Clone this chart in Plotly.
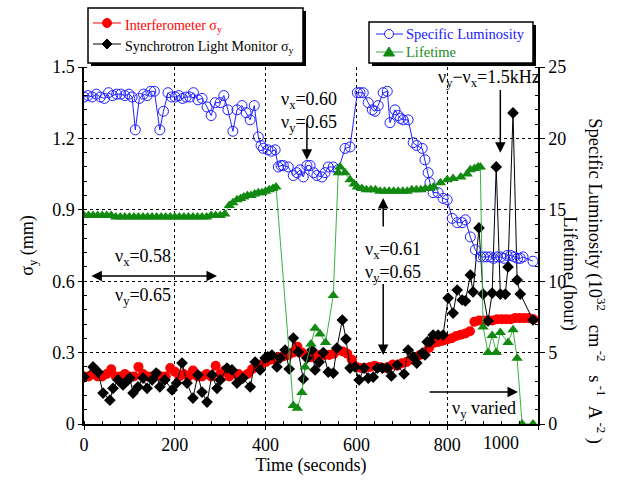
import plotly.graph_objects as go

# ---------------- data ----------------
red_t = list(range(0, 1000, 10))
red_s = [0.20,0.20,0.21,0.20,0.20,0.21,0.23,0.20,0.20,0.21,
         0.20,0.20,0.24,0.21,0.20,0.20,0.21,0.20,0.20,0.235,
         0.22,0.20,0.21,0.20,0.225,0.20,0.20,0.21,0.20,0.245,
         0.21,0.225,0.20,0.21,0.21,0.20,0.21,0.23,0.245,0.25,
         0.26,0.27,0.27,0.28,0.285,0.29,0.30,0.325,0.30,0.285,
         0.28,0.29,0.29,0.29,0.29,0.295,0.31,0.305,0.295,0.27,
         0.24,0.235,0.235,0.24,0.245,0.24,0.235,0.24,0.25,0.245,
         0.255,0.26,0.27,0.275,0.29,0.30,0.32,0.34,0.345,0.35,
         0.355,0.36,0.37,0.375,0.38,0.39,0.43,0.435,0.435,0.435,
         0.435,0.44,0.44,0.44,0.44,0.445,0.445,0.445,0.445,0.44]

blk_t = [0,20,31,42,57,64,75,86,97,101,108,119,130,139,150,159,167,178,194,204,
         216,227,240,251,260,271,282,293,300,315,326,337,350,366,377,388,399,405,414,425,
         432,443,452,461,472,483,491,502,509,518,527,538,549,557,569,577,586,597,606,617,
         626,637,646,657,668,677,690,705,714,725,733,745,751,756,762,769,780,791,802,813,
         822,833,840,851,857,870,879,890,899,908,917,928,934,945,954,961,989]
blk_s = [0.197,0.24,0.218,0.13,0.10,0.15,0.185,0.164,0.185,0.193,0.13,0.156,0.193,0.15,0.185,0.214,0.156,0.185,0.143,0.172,
         0.256,0.172,0.109,0.206,0.134,0.092,0.206,0.15,0.185,0.235,0.227,0.172,0.193,0.156,0.26,0.227,0.277,0.282,0.29,0.24,
         0.277,0.311,0.231,0.361,0.303,0.189,0.277,0.311,0.227,0.26,0.30,0.218,0.214,0.319,0.437,0.357,0.235,0.24,0.185,0.235,
         0.193,0.197,0.235,0.235,0.235,0.202,0.248,0.21,0.311,0.282,0.256,0.298,0.29,0.345,0.345,0.374,0.374,0.374,0.529,0.466,
         0.563,0.521,0.517,0.626,0.555,0.824,0.546,0.433,0.55,1.08,0.546,0.546,0.66,1.307,0.605,0.546,0.437]

lum_t = [0,9,18,27,36,45,54,63,72,81,90,99,106,113,122,131,139,147,155,167,
         175,185,193,201,209,217,225,233,241,251,260,271,280,289,300,308,317,328,337,348,
         357,366,375,384,390,395,405,413,421,428,434,439,450,461,469,476,483,491,498,506,
         513,524,531,538,549,560,575,586,602,608,615,626,635,641,648,659,668,674,685,692,
         697,703,714,725,733,745,751,758,762,769,780,791,800,811,822,833,840,851,862,873,
         880,887,895,902,910,918,925,932,940,948,955,961,967,989]
lum_v = [22.9,23.0,22.9,23.1,22.9,22.8,23.2,23.0,23.1,23.1,23.0,23.1,22.9,20.6,22.8,23.1,23.0,23.3,23.3,20.6,
         21.9,23.2,22.9,22.9,23.0,22.8,22.9,22.9,23.2,22.7,22.8,22.2,21.6,22.5,22.5,23.0,22.0,20.5,22.0,22.3,
         21.8,21.3,22.3,20.1,19.5,19.3,19.2,19.1,19.2,18.0,18.1,18.1,18.0,17.4,17.6,17.8,17.3,18.1,18.1,17.6,
         17.4,17.3,17.6,18.0,18.0,17.8,19.3,19.4,23.2,23.2,23.2,22.5,22.0,21.9,22.3,23.2,23.3,21.1,22.0,21.6,
         21.4,21.3,21.3,19.7,19.5,19.3,18.5,17.6,16.9,16.2,16.2,15.8,15.7,14.4,14.1,14.1,14.3,13.1,12.2,11.7,
         11.7,11.7,11.7,11.6,11.7,11.7,11.6,11.8,11.8,11.7,11.6,11.6,11.7,11.4]

life_t = [0,10,20,30,40,50,60,70,80,90,100,110,120,130,140,150,160,170,180,190,
          200,210,220,230,240,250,260,270,280,290,300,310,320,328,337,345,352,360,368,376,
          384,392,400,408,416,423,461,470,480,487,500,509,520,532,549,560,564,575,586,595,
          602,612,622,632,642,652,662,672,682,692,702,712,722,732,742,752,762,770,785,800,
          813,830,844,851,860,868,873,879,890,899,908,917,934,945,954,965,989]
life_v = [14.6,14.6,14.6,14.6,14.6,14.6,14.6,14.5,14.5,14.5,14.5,14.5,14.5,14.5,14.5,14.5,14.5,14.5,14.5,14.5,
          14.5,14.5,14.5,14.5,14.5,14.5,14.5,14.5,14.6,14.6,14.6,14.7,15.3,15.5,15.7,15.8,15.9,16.0,16.0,16.1,
          16.2,16.2,16.3,16.4,16.5,16.6,1.3,1.1,2.2,4.0,5.6,6.7,6.3,5.7,9.0,17.6,18.0,17.6,17.1,16.8,
          16.6,16.5,16.4,16.4,16.4,16.3,16.3,16.3,16.3,16.3,16.3,16.3,16.4,16.4,16.4,16.5,16.5,16.6,16.9,17.1,
          17.2,17.3,17.5,17.8,17.9,18.0,18.0,6.8,5.0,6.2,5.0,6.4,5.7,6.6,4.6,0.0,0.0]

x_ticks = [0, 200, 400, 600, 800, 1000]
x_ticktext = ["0", "200", "400", "600", "800", ""]   # "1000" drawn shifted left below
y_ticks = [0, 0.3, 0.6, 0.9, 1.2, 1.5]
y2_ticks = [0, 5, 10, 15, 20, 25]

legend1_names = ["Interferometer σ<sub>y</sub>", "Synchrotron Light Monitor σ<sub>y</sub>"]
legend2_names = ["Specific Luminosity", "Lifetime"]

FONT = "Liberation Serif, Times New Roman, serif"
RED = "#ff0000"
BLUE = "#2020ff"
GREEN_M = "#128a12"
GREEN_L = "#3cb043"
GREEN_T = "#1a8a1a"

fig = go.Figure()
fig.add_trace(go.Scatter(x=red_t, y=red_s, mode="lines+markers", name="Interferometer σy",
    line=dict(color=RED, width=1), marker=dict(symbol="circle", size=10, color=RED)))
fig.add_trace(go.Scatter(x=blk_t, y=blk_s, mode="lines+markers", name="Synchrotron Light Monitor σy",
    line=dict(color="black", width=1), marker=dict(symbol="diamond", size=9, color="black")))
fig.add_trace(go.Scatter(x=lum_t, y=lum_v, mode="lines+markers", yaxis="y2", name="Specific Luminosity",
    line=dict(color=BLUE, width=1),
    marker=dict(symbol="circle-open", size=10, color=BLUE, line=dict(width=1))))
fig.add_trace(go.Scatter(x=life_t, y=life_v, mode="lines+markers", yaxis="y2", name="Lifetime",
    line=dict(color=GREEN_L, width=1), marker=dict(symbol="triangle-up", size=10, color=GREEN_M)))

fig.update_layout(
    width=621, height=481,
    margin=dict(l=84, r=83, t=67, b=57),
    paper_bgcolor="white", plot_bgcolor="white",
    showlegend=False,
    font=dict(family=FONT, size=18, color="black"),
    xaxis=dict(range=[0, 1000], tickvals=x_ticks, ticktext=x_ticktext,
               showgrid=True, gridcolor="black", griddash="dot", gridwidth=1,
               showline=True, linecolor="black", linewidth=1.5, mirror=False,
               ticks="outside", ticklen=4, tickcolor="black",
               minor=dict(dtick=40, ticks="inside", ticklen=3, tickcolor="black", showgrid=False),
               zeroline=False,
               title=dict(text="Time (seconds)", font=dict(size=18), standoff=2)),
    yaxis=dict(range=[0, 1.5], tickvals=y_ticks, ticktext=["0", "0.3", "0.6", "0.9", "1.2", "1.5"],
               showgrid=True, gridcolor="black", griddash="dot", gridwidth=1,
               showline=True, linecolor="black", linewidth=1.5,
               ticks="outside", ticklen=4, tickcolor="black",
               minor=dict(dtick=0.06, ticks="inside", ticklen=3, tickcolor="black", showgrid=False),
               zeroline=False,
               title=dict(text="σ<sub>y</sub> (mm)", font=dict(size=18), standoff=14)),
    yaxis2=dict(range=[0, 25], tickvals=y2_ticks, overlaying="y", side="right",
               showgrid=False, showline=True, linecolor="black", linewidth=1.5,
               ticks="outside", ticklen=5, tickcolor="black",
               minor=dict(dtick=1, ticks="inside", ticklen=3, tickcolor="black"),
               zeroline=False),
)

# ---------------- hand-drawn legends (pixel -> paper) ----------------
def px_x(p):
    return (p - 84) / 454.0
def px_y(p):
    return (424 - p) / 357.0

def rect(x0, y0, x1, y1, fill, lw=0):
    fig.add_shape(type="rect", xref="paper", yref="paper",
                  x0=px_x(x0), x1=px_x(x1), y0=px_y(y1), y1=px_y(y0),
                  fillcolor=fill, line=dict(color="black", width=lw), layer="above")

def hline(x0, x1, y, color):
    fig.add_shape(type="line", xref="paper", yref="paper",
                  x0=px_x(x0), x1=px_x(x1), y0=px_y(y), y1=px_y(y),
                  line=dict(color=color, width=1), layer="above")

def circle(cx, cy, r, color, filled):
    fig.add_shape(type="circle", xref="paper", yref="paper",
                  x0=px_x(cx - r), x1=px_x(cx + r), y0=px_y(cy + r), y1=px_y(cy - r),
                  fillcolor=color if filled else "white", line=dict(color=color, width=1), layer="above")

def poly(pts, color):
    path = "M " + " L ".join(f"{px_x(a):.5f},{px_y(b):.5f}" for a, b in pts) + " Z"
    fig.add_shape(type="path", xref="paper", yref="paper", path=path,
                  fillcolor=color, line=dict(color=color, width=1), layer="above")

def label(x, y, text, color, yshift=0, size=14):
    fig.add_annotation(xref="paper", yref="paper", x=px_x(x), y=px_y(y), xanchor="left",
                       yanchor="middle", text=text, showarrow=False, yshift=yshift,
                       font=dict(family=FONT, size=size, color=color), borderpad=0)

# legend 1
rect(91, 11, 306, 66, "black")
rect(88, 8, 303, 63, "white", 1.5)
hline(93, 121, 23, RED); circle(107, 23, 4.5, RED, True)
label(124, 23, legend1_names[0], RED, yshift=-3)
hline(93, 121, 44, "black"); poly([(107, 39), (112, 44), (107, 49), (102, 44)], "black")
label(124, 44, legend1_names[1], "black", yshift=-3)

# legend 2
rect(372, 25, 536, 66, "black")
rect(369, 22, 533, 63, "white", 1.5)
hline(376, 403, 34, BLUE); circle(389, 34, 4.5, BLUE, False)
label(405, 34, legend2_names[0], BLUE, size=14.5)
hline(376, 403, 52, GREEN_L); poly([(389, 47), (394.5, 56), (383.5, 56)], GREEN_M)
label(405, 52, legend2_names[1], GREEN_T, size=14.5)

# ---------------- annotations ----------------
ann_font = dict(family=FONT, size=18, color="black")
A = dict(xref="x", yref="y", axref="x", ayref="y", showarrow=True, arrowhead=2,
         arrowsize=1.4, arrowwidth=1.5, arrowcolor="black", text="")

# shifted last x tick label
fig.add_annotation(x=px_x(521), y=0, xref="paper", yref="paper", yanchor="top", yshift=-7,
                   text="1000", showarrow=False, font=ann_font)

fig.add_annotation(x=496, y=1.31, text="ν<sub>x</sub>=0.60<br>ν<sub>y</sub>=0.65", showarrow=False, font=ann_font)
fig.add_annotation(x=491, y=1.11, ax=491, ay=1.27, **A)

fig.add_annotation(x=892, y=1.45, text="ν<sub>y</sub>−ν<sub>x</sub>=1.5kHz", showarrow=False, font=ann_font)
fig.add_annotation(x=917, y=1.14, ax=917, ay=1.41, **A)

fig.add_annotation(x=130, y=0.70, text="ν<sub>x</sub>=0.58", showarrow=False, font=ann_font)
fig.add_annotation(x=293, y=0.622, ax=13, ay=0.622, arrowside="end+start", startarrowhead=2,
                   startarrowsize=1.4, **A)
fig.add_annotation(x=130, y=0.534, text="ν<sub>y</sub>=0.65", showarrow=False, font=ann_font)

fig.add_annotation(x=680, y=0.68, text="ν<sub>x</sub>=0.61<br>ν<sub>y</sub>=0.65", showarrow=False, font=ann_font)
fig.add_annotation(x=659, y=0.95, ax=659, ay=0.824, **A)
fig.add_annotation(x=659, y=0.29, ax=659, ay=0.595, **A)

fig.add_annotation(x=880, y=0.06, text="ν<sub>y</sub> varied", showarrow=False, font=ann_font)
fig.add_annotation(x=956, y=0.134, ax=758, ay=0.134, **A)

# right-side titles (rotated, reading top to bottom)
fig.add_annotation(xref="paper", yref="paper", x=1.13, y=0.40, xanchor="center", yanchor="middle",
                   textangle=90, showarrow=False,
                   text=("Specific Luminosity (10<sup>32</sup>&nbsp;&nbsp;&nbsp;cm<sup>&nbsp;-2</sup>&nbsp;&nbsp;&nbsp;"
                         "s<sup>&nbsp;-1</sup>&nbsp;&nbsp;A<sup>&nbsp;-2</sup>&nbsp;)"),
                   font=dict(family=FONT, size=18.5, color="black"))
fig.add_annotation(xref="paper", yref="paper", x=1.07, y=0.42, xanchor="center", yanchor="middle",
                   textangle=90, showarrow=False,
                   text="Lifetime (hour)", font=dict(family=FONT, size=18.5, color="black"))

fig.write_html("out.html")
